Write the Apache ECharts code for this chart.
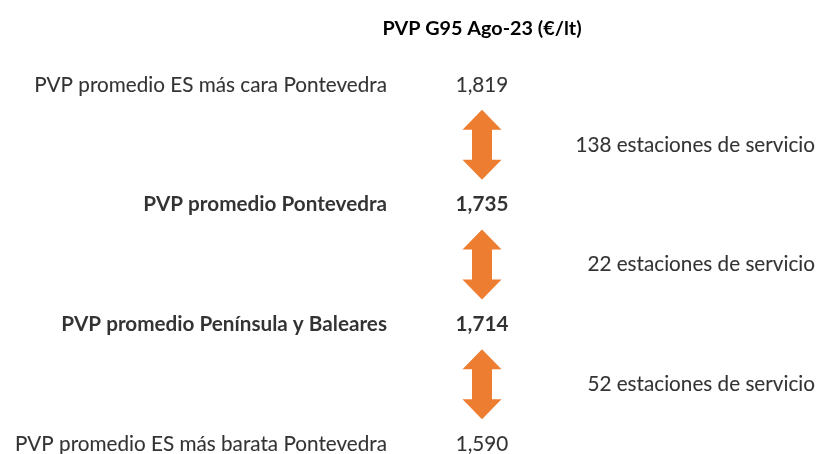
<!DOCTYPE html>
<html>
<head>
<meta charset="utf-8">
<style>
  html, body { margin: 0; padding: 0; background: #fff; }
  #chart { width: 818px; height: 454px; }
</style>
<script src="https://cdn.jsdelivr.net/npm/echarts@6/dist/echarts.min.js"></script>
</head>
<body>
<div id="chart"></div>
<script>
// datos
var rowLabels = [
  'PVP promedio ES más cara Pontevedra',
  'PVP promedio Pontevedra',
  'PVP promedio Península y Baleares',
  'PVP promedio ES más barata Pontevedra'
];
var prices = [1.819, 1.735, 1.714, 1.590];
var boldRows = [false, true, true, false];
var stations = [138, 22, 52];
var title = 'PVP G95 Ago-23 (€/lt)';

// columnas (px en eje x oculto)
var labelX = 387, valueX = 482, stationX = 815;
var font = 'Lato';
var arrowPath = 'path://M19.5 0 L39 20 L29.5 20 L29.5 50 L39 50 L19.5 70 L0 50 L9.5 50 L9.5 20 L0 20 Z';

function fmt(v) {
  return v.toFixed(3).replace('.', ',');
}

var labelData = rowLabels.map(function (t, i) {
  return { value: [labelX, i], name: t, bold: boldRows[i] };
});
var priceData = prices.map(function (p, i) {
  return { value: [valueX, i], name: fmt(p), bold: boldRows[i] };
});
var arrowData = stations.map(function (s, i) {
  return [valueX, i + 0.5];
});
var stationData = stations.map(function (s, i) {
  return { value: [stationX, i + 0.5], name: s + ' estaciones de servicio' };
});

function textLabels(data, align) {
  return data.map(function (d) {
    d.label = {
      show: true,
      position: 'inside',
      align: align,
      verticalAlign: 'middle',
      formatter: d.name,
      color: '#000',
      fontFamily: font,
      fontSize: 20.7,
      fontWeight: d.bold ? 'bold' : 'normal',
      textBorderColor: '#000',
      textBorderWidth: d.bold ? 0 : 0.1
    };
    return d;
  });
}

var option = {
  animation: false,
  title: {
    text: title,
    left: 477,
    top: 14,
    textAlign: 'center',
    textStyle: { fontFamily: font, fontSize: 19.8, fontWeight: 'bold', color: '#000' }
  },
  grid: { left: 0, right: 0, top: 85, bottom: 10 },
  xAxis: { type: 'value', min: 0, max: 818, show: false },
  yAxis: { type: 'value', min: 0, max: 3, inverse: true, show: false },
  series: [
    {
      type: 'scatter', symbolSize: 0, silent: true,
      data: textLabels(labelData, 'right')
    },
    {
      type: 'scatter', symbolSize: 0, silent: true,
      data: textLabels(priceData, 'center')
    },
    {
      type: 'scatter', symbol: arrowPath, symbolSize: [39, 70], silent: true,
      itemStyle: { color: '#ED7D31', opacity: 1 },
      data: arrowData
    },
    {
      type: 'scatter', symbolSize: 0, silent: true,
      data: textLabels(stationData, 'right')
    }
  ]
};

var chart = echarts.init(document.getElementById('chart'));
chart.setOption(option);
</script>
</body>
</html>
